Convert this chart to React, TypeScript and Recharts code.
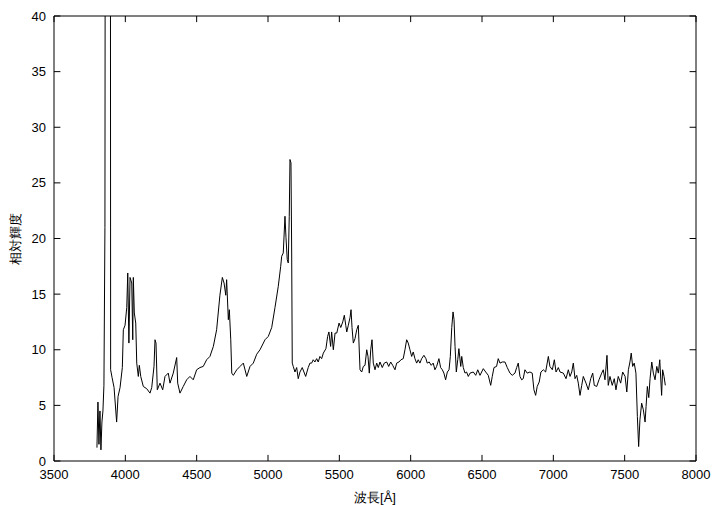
import React from 'react';
import { LineChart, Line, XAxis, YAxis, ReferenceLine, ReferenceArea } from 'recharts';

// wavelength [Å] and relative flux
const wavelength = [
  3801, 3808, 3815, 3822, 3829, 3836, 3843, 3850, 3857, 3866, 3880, 3892, 3897, 3907, 3921, 3939,
  3949, 3963, 3979, 3986, 3998, 4010, 4017, 4025, 4033, 4045, 4052, 4056, 4063, 4073, 4080, 4091,
  4098, 4108, 4126, 4150, 4173, 4185, 4201, 4208, 4215, 4224, 4243, 4262, 4278, 4301, 4313, 4336,
  4360, 4367, 4383, 4406, 4430, 4453, 4476, 4500, 4523, 4546, 4570, 4593, 4617, 4640, 4663, 4680,
  4692, 4704, 4710, 4722, 4729, 4739, 4746, 4757, 4781, 4804, 4827, 4851, 4874, 4897, 4921, 4944,
  4979, 5002, 5026, 5049, 5072, 5089, 5096, 5107, 5119, 5126, 5135, 5142, 5149, 5154, 5161, 5166,
  5170, 5177, 5189, 5201, 5212, 5224, 5240, 5252, 5264, 5282, 5294, 5306, 5317, 5329, 5341, 5352,
  5364, 5376, 5388, 5406, 5418, 5427, 5439, 5446, 5458, 5470, 5482, 5498, 5510, 5524, 5535, 5545,
  5552, 5563, 5575, 5582, 5589, 5598, 5610, 5622, 5633, 5645, 5657, 5668, 5680, 5692, 5701, 5710,
  5720, 5729, 5738, 5750, 5762, 5773, 5785, 5801, 5815, 5832, 5846, 5860, 5874, 5890, 5902, 5918,
  5932, 5948, 5960, 5972, 5983, 5995, 6007, 6018, 6030, 6042, 6053, 6065, 6077, 6093, 6107, 6116,
  6130, 6144, 6158, 6170, 6182, 6198, 6210, 6222, 6233, 6245, 6257, 6269, 6278, 6288, 6297, 6304,
  6311, 6320, 6330, 6338, 6351, 6358, 6369, 6381, 6392, 6404, 6416, 6439, 6456, 6470, 6486, 6509,
  6526, 6544, 6561, 6572, 6584, 6602, 6614, 6626, 6642, 6661, 6677, 6696, 6712, 6731, 6743, 6754,
  6766, 6778, 6789, 6801, 6817, 6836, 6852, 6864, 6876, 6887, 6901, 6913, 6930, 6946, 6965, 6976,
  6993, 7007, 7019, 7035, 7047, 7070, 7089, 7105, 7117, 7129, 7140, 7152, 7164, 7175, 7187, 7199,
  7210, 7229, 7245, 7262, 7276, 7287, 7304, 7320, 7339, 7350, 7362, 7376, 7385, 7397, 7413, 7427,
  7439, 7455, 7472, 7486, 7503, 7515, 7526, 7537, 7546, 7556, 7567, 7579, 7589, 7598, 7607, 7619,
  7631, 7643, 7650, 7659, 7669, 7678, 7690, 7701, 7713, 7725, 7736, 7746, 7759, 7766, 7776, 7785,
];

const flux = [
  1.2, 5.3, 1.5, 4.5, 1.0, 3.5, 4.5, 6.8, 21, 150, 120, 150, 8.2, 7.5, 6.6, 3.5,
  5.8, 6.6, 8.4, 11.8, 12.2, 13.8, 16.9, 10.6, 16.5, 16.0, 10.9, 16.5, 13.3, 12.4, 8.8, 7.6,
  8.6, 7.6, 6.7, 6.5, 6.1, 6.6, 8.5, 10.9, 10.6, 6.4, 7.0, 6.4, 7.6, 7.9, 7.0, 7.9,
  9.3, 7.0, 6.1, 6.7, 7.3, 7.6, 7.3, 8.2, 8.4, 8.5, 9.1, 9.4, 10.3, 11.8, 14.9, 16.5,
  16.0, 14.9, 16.3, 12.7, 13.6, 10.9, 7.9, 7.7, 8.2, 8.5, 8.8, 7.6, 8.5, 8.8, 9.6, 10.0,
  10.9, 11.2, 12.0, 13.8, 15.7, 17.5, 18.4, 18.7, 22.0, 20.1, 18.1, 17.8, 22.0, 27.1, 26.8, 18.7,
  8.8, 8.5, 8.0, 8.4, 7.4, 8.0, 8.4, 8.0, 7.6, 8.4, 8.8, 8.8, 9.1, 8.9, 9.2, 8.9,
  9.4, 9.2, 9.7, 10.1, 11.2, 11.6, 10.3, 11.6, 10.0, 11.5, 11.5, 12.4, 12.0, 12.5, 13.1, 12.2,
  11.6, 12.2, 12.9, 13.6, 12.0, 10.6, 11.0, 11.8, 12.2, 8.2, 8.0, 8.5, 8.6, 10.0, 9.4, 7.9,
  10.0, 10.9, 8.8, 8.2, 8.8, 8.4, 8.9, 8.4, 8.8, 8.9, 8.5, 8.9, 8.6, 8.2, 8.8, 8.9,
  9.1, 9.2, 10.0, 10.9, 10.6, 10.0, 9.4, 9.8, 9.2, 8.8, 9.1, 8.8, 9.2, 9.5, 9.2, 8.8,
  8.9, 8.6, 8.8, 8.2, 8.5, 9.2, 8.4, 8.2, 7.9, 7.3, 8.0, 8.2, 9.4, 12.0, 13.4, 12.7,
  10.3, 8.0, 9.1, 10.1, 8.5, 9.4, 8.4, 7.9, 8.0, 7.6, 7.9, 8.0, 7.7, 8.2, 7.7, 8.3,
  8.0, 7.7, 6.8, 7.6, 8.4, 8.5, 9.2, 8.8, 8.9, 8.9, 8.4, 7.9, 7.7, 7.9, 8.4, 8.8,
  7.6, 7.3, 7.4, 8.2, 7.9, 8.0, 7.9, 6.4, 5.9, 6.7, 7.1, 8.0, 8.2, 8.0, 9.4, 8.5,
  8.2, 9.1, 8.0, 8.4, 8.0, 7.9, 7.4, 8.2, 7.6, 8.0, 8.8, 7.4, 7.7, 7.0, 5.9, 6.8,
  7.6, 7.0, 6.4, 7.4, 7.9, 6.8, 6.7, 7.3, 7.9, 8.2, 7.3, 9.5, 6.8, 7.6, 6.8, 7.4,
  6.4, 7.6, 7.0, 8.0, 7.6, 6.2, 8.2, 8.9, 9.7, 8.5, 8.8, 7.9, 4.0, 1.3, 3.7, 5.2,
  4.6, 3.5, 4.9, 6.7, 5.7, 7.4, 8.9, 7.9, 7.3, 8.5, 7.9, 9.1, 5.9, 8.2, 7.6, 6.8,
];

const xTicks = [3500, 4000, 4500, 5000, 5500, 6000, 6500, 7000, 7500, 8000];
const yTicks = [0, 5, 10, 15, 20, 25, 30, 35, 40];

const data = wavelength.map((w, i) => ({ w, f: flux[i] }));

const FONT = '"Liberation Sans", Arial, sans-serif';

export default function App() {
  const tickStyle = { fill: '#000', fontSize: 13, fontFamily: FONT };
  const labelStyle = { fill: '#000', fontSize: 13, fontFamily: FONT };
  return (
    <div style={{ position: 'absolute', left: 0, top: 0, background: '#fff' }}>
      <LineChart
        width={721}
        height={505}
        data={data}
        margin={{ top: 16, right: 25, bottom: 0, left: 0 }}
        style={{ fontFamily: FONT }}
      >
        <XAxis
          dataKey="w"
          type="number"
          domain={[3500, 8000]}
          ticks={xTicks}
          allowDataOverflow
          height={44}
          tickLine={false}
          axisLine={false}
          tickMargin={3}
          tick={tickStyle}
          label={{ value: '波長[Å]', position: 'insideBottom', offset: 3, style: labelStyle }}
        />
        <YAxis
          type="number"
          domain={[0, 40]}
          ticks={yTicks}
          allowDataOverflow
          width={54}
          tickLine={false}
          axisLine={false}
          tick={tickStyle}
          label={{
            value: '相対輝度',
            angle: -90,
            position: 'insideLeft',
            offset: 15,
            style: { ...labelStyle, textAnchor: 'middle' },
          }}
        />
        {/* inward ticks on all four sides, gnuplot style */}
        {xTicks.map((t) => (
          <ReferenceLine key={'xb' + t} segment={[{ x: t, y: 0 }, { x: t, y: 0.55 }]} stroke="#000" />
        ))}
        {xTicks.map((t) => (
          <ReferenceLine key={'xt' + t} segment={[{ x: t, y: 40 }, { x: t, y: 39.45 }]} stroke="#000" />
        ))}
        {yTicks.map((t) => (
          <ReferenceLine key={'yl' + t} segment={[{ x: 3500, y: t }, { x: 3545, y: t }]} stroke="#000" />
        ))}
        {yTicks.map((t) => (
          <ReferenceLine key={'yr' + t} segment={[{ x: 8000, y: t }, { x: 7955, y: t }]} stroke="#000" />
        ))}
        <ReferenceArea x1={3500} x2={8000} y1={0} y2={40} fill="none" stroke="#000" strokeWidth={1} />
        <Line
          type="linear"
          dataKey="f"
          stroke="#000"
          strokeWidth={1}
          dot={false}
          isAnimationActive={false}
        />
      </LineChart>
    </div>
  );
}
